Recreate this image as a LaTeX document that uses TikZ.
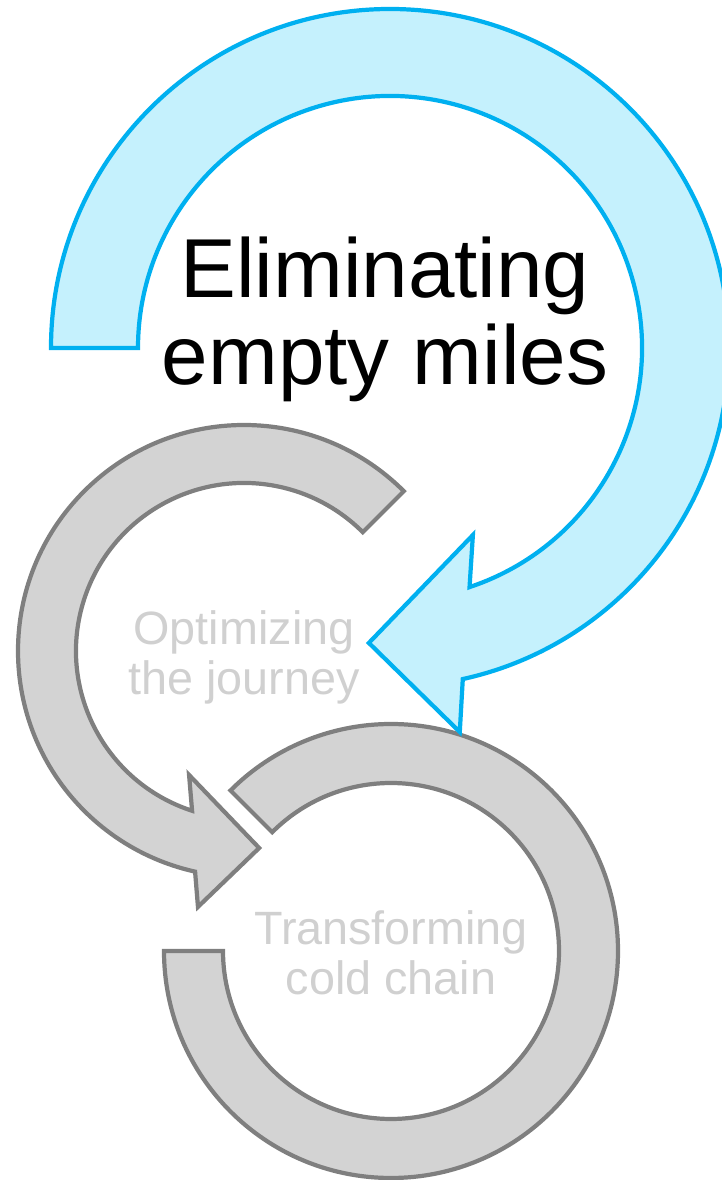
\documentclass[tikz,border=0pt]{standalone}
\usepackage{fontspec}
\setmainfont{Liberation Sans}
\definecolor{cielo}{HTML}{00B0F0}
\definecolor{cieloClaro}{HTML}{C5F1FD}
\definecolor{grisBorde}{HTML}{7F7F7F}
\definecolor{grisRelleno}{HTML}{D3D3D3}
\definecolor{grisTexto}{HTML}{D0D0D0}

\begin{document}
\begin{tikzpicture}[x=0.02cm,y=0.02cm,
    flechaAzul/.style={draw=cielo,fill=cieloClaro,line width=2.4pt}, %la flecha grande celeste
    flechaGris/.style={draw=grisBorde,fill=grisRelleno,line width=2.4pt},
    textoGrande/.style={align=center,anchor=base,font=\fontsize{47.6pt}{50pt}\selectfont},
    textoSuave/.style={align=center,anchor=base,text=grisTexto,font=\fontsize{26.6pt}{28.5pt}\selectfont}]
    \useasboundingbox (0,0) rectangle (722,1180); %tamanio de la hoja

    %Centros de los tres circulos
    \coordinate (c1) at (390,832);
    \coordinate (c2) at (244,529);
    \coordinate (c3) at (391,229);

    %El anillo de abajo (sin punta)
    \draw[flechaGris] ([shift={(180:227)}]c3) arc[start angle=180,end angle=495,radius=227]
        -- ([shift={(135:168)}]c3) arc[start angle=495,end angle=180,radius=168] -- cycle;

    %La flecha gris del medio
    \draw[flechaGris] ([shift={(45:226)}]c2) arc[start angle=45,end angle=257.5,radius=226]
        -- ([shift={(259.8:260)}]c2) -- ([shift={(274.4:197.6)}]c2) -- ([shift={(246.1:135.6)}]c2)
        -- ([shift={(252:168)}]c2) arc[start angle=252,end angle=45,radius=168] -- cycle;

    %La celeste va arriba de todo
    \draw[flechaAzul] ([shift={(180:339)}]c1) arc[start angle=180,end angle=-77.6,radius=339]
        -- ([shift={(-79.7:390.3)}]c1) -- ([shift={(-94.1:295.7)}]c1) -- ([shift={(-66.1:204.6)}]c1)
        -- ([shift={(-71.6:252)}]c1) arc[start angle=-71.6,end angle=180,radius=252] -- cycle;

    %Textos (el base queda en la ultima linea)
    \node[textoGrande] (meta) at (385,795) {Eliminating\\empty miles};
    \node[textoSuave] (viaje) at (244,485) {Optimizing\\the journey};
    \node[textoSuave] (frio) at (391,185) {Transforming\\cold chain};
\end{tikzpicture}
\end{document}
